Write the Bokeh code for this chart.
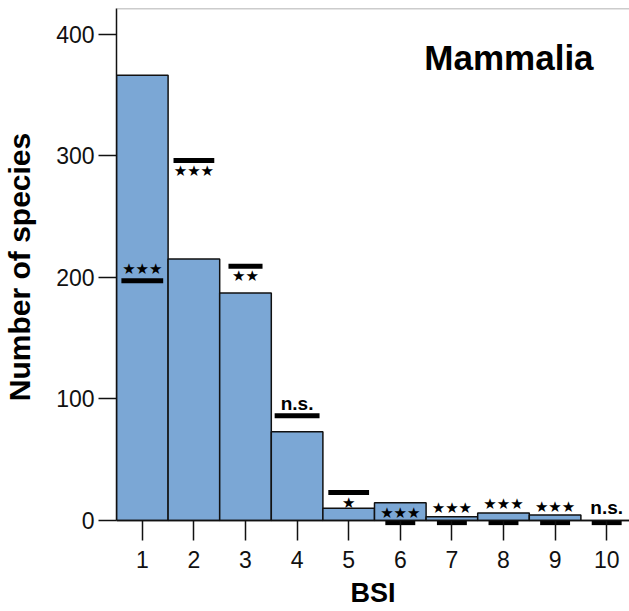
from bokeh.plotting import figure
from bokeh.models import Range1d, Span, ColumnDataSource, FixedTicker, Label
from bokeh.core.properties import value
from bokeh.embed import file_html
from bokeh.resources import INLINE

# ---- data ----
bsi = [1, 2, 3, 4, 5, 6, 7, 8, 9, 10]
observed = [366, 215, 187, 73, 10, 14.5, 3, 6, 4.5, 0]
expected = [197, 296, 209, 86, 23, -2, -2, -2, -2, -2]
significance = ["***", "***", "**", "n.s.", "*", "***", "***", "***", "***", "n.s."]
marker_width = [0.81, 0.79, 0.66, 0.87, 0.79, 0.58, 0.58, 0.58, 0.58, 0.58]
y_ticks = [0, 100, 200, 300, 400]
title_text = "Mammalia"
x_label = "BSI"
y_label = "Number of species"

# ---- style ----
label_lift_px = [12, -11, -10, 12, -11, 10, 15, 19, 16, 15]
bar_color = "#7BA7D5"
ink = "#111111"
Y_TOP = 421.0

p = figure(width=629, height=611, output_backend="svg", toolbar_location=None,
           x_range=Range1d(0.5, 10.442), y_range=Range1d(-4.2, Y_TOP),
           min_border_left=115, min_border_right=0, min_border_top=8,
           min_border_bottom=86)
p.outline_line_color = None
p.xgrid.grid_line_color = None
p.ygrid.grid_line_color = None
p.background_fill_color = "white"

p.vbar(x=bsi, top=observed, bottom=0, width=1.0, fill_color=bar_color,
       line_color=ink, line_width=1.5)

x0 = [b - w / 2 for b, w in zip(bsi, marker_width)]
x1 = [b + w / 2 for b, w in zip(bsi, marker_width)]
p.segment(x0=x0, y0=expected, x1=x1, y1=expected, line_width=5, line_color="black")

def star_text(s):
    return "\u2605" * len(s)

star_src = ColumnDataSource(dict(
    x=[b for b, s in zip(bsi, significance) if s != "n.s."],
    y=[e for e, s in zip(expected, significance) if s != "n.s."],
    t=[star_text(s) for s in significance if s != "n.s."],
    dy=[-l for l, s in zip(label_lift_px, significance) if s != "n.s."],
))
ns_src = ColumnDataSource(dict(
    x=[b for b, s in zip(bsi, significance) if s == "n.s."],
    y=[e for e, s in zip(expected, significance) if s == "n.s."],
    t=[s for s in significance if s == "n.s."],
    dy=[-l for l, s in zip(label_lift_px, significance) if s == "n.s."],
))
p.text(x="x", y="y", text="t", y_offset="dy", source=star_src,
       text_font=value("DejaVu Sans"), text_font_size="15px",
       text_align="center", text_baseline="middle", text_color="black")
p.text(x="x", y="y", text="t", y_offset="dy", source=ns_src,
       text_font=value("Liberation Sans"), text_font_style="bold",
       text_font_size="19px", text_align="center", text_baseline="middle",
       text_color="black")

# axes
p.xaxis.ticker = FixedTicker(ticks=bsi)
p.xaxis.axis_line_color = None
p.xaxis.major_tick_in = 5
p.xaxis.major_tick_out = 15
p.xaxis.major_tick_line_color = ink
p.xaxis.major_tick_line_width = 1.5
p.xaxis.minor_tick_line_color = None
p.xaxis.major_label_text_font = "Liberation Sans"
p.xaxis.major_label_text_font_size = "23px"
p.xaxis.major_label_text_color = ink
p.xaxis.major_label_standoff = 10
p.xaxis.axis_label = x_label
p.xaxis.axis_label_text_font = "Liberation Sans"
p.xaxis.axis_label_text_font_style = "bold"
p.xaxis.axis_label_text_font_size = "27px"
p.xaxis.axis_label_text_color = "black"
p.xaxis.axis_label_standoff = 7

p.yaxis.ticker = FixedTicker(ticks=y_ticks)
p.yaxis.bounds = (0, Y_TOP)
p.yaxis.axis_line_color = ink
p.yaxis.axis_line_width = 1.5
p.yaxis.major_tick_in = 0
p.yaxis.major_tick_out = 18
p.yaxis.major_tick_line_color = ink
p.yaxis.major_tick_line_width = 1.5
p.yaxis.minor_tick_line_color = None
p.yaxis.major_label_text_font = "Liberation Sans"
p.yaxis.major_label_text_font_size = "23px"
p.yaxis.major_label_text_color = ink
p.yaxis.major_label_standoff = 4
p.yaxis.axis_label = y_label
p.yaxis.axis_label_text_font = "Liberation Sans"
p.yaxis.axis_label_text_font_style = "bold"
p.yaxis.axis_label_text_font_size = "30px"
p.yaxis.axis_label_text_color = "black"
p.yaxis.axis_label_standoff = 17

p.add_layout(Span(location=0, dimension="width", line_color=ink, line_width=1.5))
p.add_layout(Span(location=Y_TOP, dimension="width", line_color="#999999", line_width=1.5))

p.add_layout(Label(x=9.746, y=380.9, text=title_text, text_align="right",
                   text_baseline="alphabetic", text_font="Liberation Sans",
                   text_font_style="bold", text_font_size="35px", text_color="black"))

open("out.html", "w").write(file_html(p, INLINE))
